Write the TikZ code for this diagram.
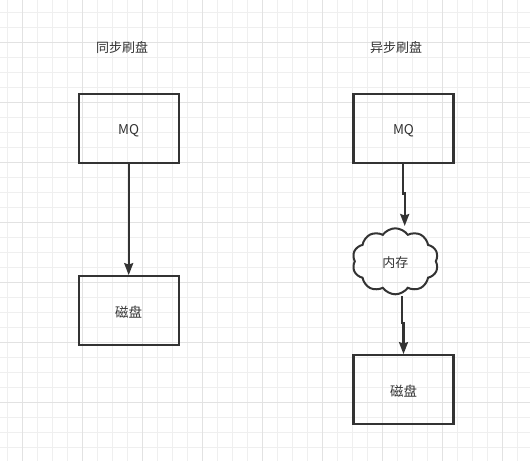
\documentclass[tikz,border=0pt]{standalone}
\usepackage{fontspec}
\setmainfont{Noto Sans CJK SC}
\usetikzlibrary{shapes.symbols,arrows.meta}
\definecolor{ink}{HTML}{333333}
\definecolor{minorgrid}{HTML}{EFEFEF}
\definecolor{majorgrid}{HTML}{E2E2E2}
\tikzset{
  boxnode/.style={draw=ink,line width=2.2pt,minimum width=100pt,minimum height=69pt,inner sep=0pt,font=\fontsize{13.5}{15}\selectfont,text=ink,text height=15pt,text depth=2pt},
  cloudnode/.style={cloud,draw=ink,line width=2pt,cloud puffs=10,cloud puff arc=110,aspect=1.3,minimum width=86pt,minimum height=66pt,inner sep=0pt,font=\fontsize{13}{15}\selectfont,text=ink,text height=15pt,text depth=2pt},
  titlenode/.style={font=\fontsize{13}{15}\selectfont,text=ink},
  conn/.style={draw=ink,line width=2.2pt,-{Stealth[length=12pt,width=9pt,inset=1.5pt]}}
}
\begin{document}
\begin{tikzpicture}[x=1pt,y=-1pt]
\useasboundingbox (0,0) rectangle (530,461);
\fill[white] (0,0) rectangle (530,461);
% grid
\foreach \i in {0,...,35} {\draw[minorgrid,line width=1pt] (7.5+15*\i,0) -- (7.5+15*\i,461);}
\foreach \i in {0,...,30} {\draw[minorgrid,line width=1pt] (0,12.5+15*\i) -- (530,12.5+15*\i);}
\foreach \i in {0,...,8} {\draw[majorgrid,line width=1pt] (22.5+60*\i,0) -- (22.5+60*\i,461);}
\foreach \i in {0,...,7} {\draw[majorgrid,line width=1pt] (0,42.5+60*\i) -- (530,42.5+60*\i);}
% titles
\node[titlenode] (t1) at (122,48) {同步刷盘};
\node[titlenode] (t2) at (396,48) {异步刷盘};
% left column
\node[boxnode] (mq1) at (128.7,128.3) {MQ};
\node[boxnode] (disk1) at (128.7,310.7) {磁盘};
% right column
\node[boxnode] (mq2) at (403.5,128.3) {MQ};
\node[cloudnode] (mem) at (395.3,261.3) {内存};
\node[boxnode] (disk2) at (403.5,389.7) {磁盘};
% connectors
\draw[conn] (mq1.south) -- (disk1.north);
\coordinate (j1a) at (402.7,193.5);
\coordinate (j1b) at (404.7,193.5);
\coordinate (e1) at (404.7,226);
\draw[conn] (402.7,163) -- (j1a) -- (j1b) -- (e1);
\coordinate (s2) at (401.7,296);
\coordinate (j2a) at (401.7,323);
\coordinate (j2b) at (403.5,323);
\draw[conn] (s2) -- (j2a) -- (j2b) -- (disk2.north);
\end{tikzpicture}
\end{document}
